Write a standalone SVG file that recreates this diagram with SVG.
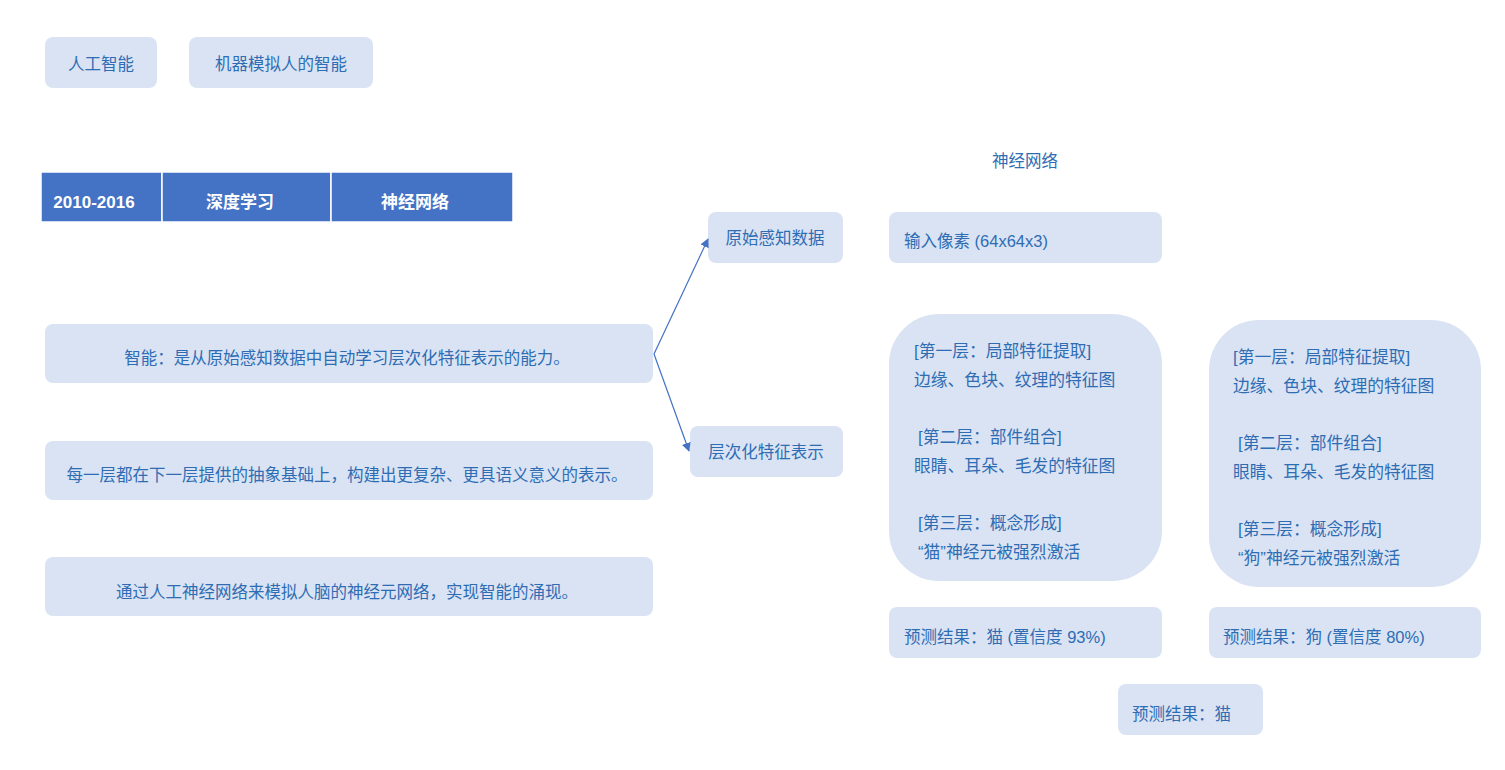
<svg xmlns="http://www.w3.org/2000/svg" width="1505" height="770" viewBox="0 0 1505 770">
<defs>
<style>
.box{fill:#dae3f3;}
.t{font-family:"Liberation Sans","Noto Sans CJK SC",sans-serif;font-size:16.5px;fill:#2e6db4;}
.l{font-size:16.8px;}
.c{text-anchor:middle;}
.hd{fill:#4472c4;stroke:#ffffff;stroke-width:1.5;}
.ht{font-family:"Liberation Sans","Noto Sans CJK SC",sans-serif;font-size:17px;font-weight:bold;fill:#ffffff;text-anchor:middle;}
.conn{stroke:#4472c4;stroke-width:1.2;fill:none;marker-end:url(#ah);}
</style>
<marker id="ah" viewBox="0 0 10 10" refX="9" refY="5" markerWidth="9" markerHeight="9" markerUnits="userSpaceOnUse" orient="auto">
<path d="M0,0 L10,5 L0,10 z" fill="#4472c4"/>
</marker>
</defs>
<rect width="1505" height="770" fill="#ffffff"/>
<g id="n-ai"><rect class="box" x="45" y="37" width="112" height="51" rx="8"/><text class="t c" x="101" y="70">人工智能</text></g>
<g id="n-machine"><rect class="box" x="189" y="37" width="184" height="51" rx="8"/><text class="t c" x="281" y="70">机器模拟人的智能</text></g>
<g id="n-table">
<rect class="hd" x="41" y="172" width="121" height="50"/>
<rect class="hd" x="162" y="172" width="169" height="50"/>
<rect class="hd" x="331" y="172" width="182" height="50"/>
<text class="ht" x="94" y="208">2010-2016</text>
<text class="ht" x="240" y="208">深度学习</text>
<text class="ht" x="415" y="208">神经网络</text>
</g>
<g id="n-raw"><rect class="box" x="708" y="212" width="135" height="51" rx="8"/><text class="t c" x="775" y="244">原始感知数据</text></g>
<g id="n-hier"><rect class="box" x="690" y="426" width="153" height="51" rx="8"/><text class="t c" x="766" y="458">层次化特征表示</text></g>
<g id="n-def1"><rect class="box" x="45" y="324" width="608" height="59" rx="8"/><text class="t c" x="347" y="364">智能：是从原始感知数据中自动学习层次化特征表示的能力。</text></g>
<g id="n-def2"><rect class="box" x="45" y="441" width="608" height="59" rx="8"/><text class="t c" x="347" y="481">每一层都在下一层提供的抽象基础上，构建出更复杂、更具语义意义的表示。</text></g>
<g id="n-def3"><rect class="box" x="45" y="557" width="608" height="59" rx="8"/><text class="t c" x="347" y="598">通过人工神经网络来模拟人脑的神经元网络，实现智能的涌现。</text></g>
<g id="n-nn-title"><text class="t c" x="1025" y="167">神经网络</text></g>
<g id="n-input"><rect class="box" x="889" y="212" width="273" height="51" rx="8"/><text class="t" x="904" y="247">输入像素 (64x64x3)</text></g>
<g id="n-layers-cat"><rect class="box" x="889" y="314" width="273" height="267" rx="50"/>
<text class="t l" x="914" y="357">[第一层：局部特征提取]</text>
<text class="t l" x="914" y="386">边缘、色块、纹理的特征图</text>
<text class="t l" x="918" y="443">[第二层：部件组合]</text>
<text class="t l" x="914" y="472">眼睛、耳朵、毛发的特征图</text>
<text class="t l" x="918" y="529">[第三层：概念形成]</text>
<text class="t l" x="918" y="558">“猫”神经元被强烈激活</text>
</g>
<g id="n-layers-dog"><rect class="box" x="1209" y="320" width="272" height="267" rx="50"/>
<text class="t l" x="1233" y="363">[第一层：局部特征提取]</text>
<text class="t l" x="1233" y="392">边缘、色块、纹理的特征图</text>
<text class="t l" x="1238" y="449">[第二层：部件组合]</text>
<text class="t l" x="1233" y="478">眼睛、耳朵、毛发的特征图</text>
<text class="t l" x="1238" y="535">[第三层：概念形成]</text>
<text class="t l" x="1238" y="564">“狗”神经元被强烈激活</text>
</g>
<g id="n-pred-cat"><rect class="box" x="889" y="607" width="273" height="51" rx="8"/><text class="t" x="904" y="643">预测结果：猫 (置信度 93%)</text></g>
<g id="n-pred-dog"><rect class="box" x="1209" y="607" width="272" height="51" rx="8"/><text class="t" x="1223" y="643">预测结果：狗 (置信度 80%)</text></g>
<g id="n-pred-final"><rect class="box" x="1118" y="684" width="145" height="51" rx="8"/><text class="t" x="1132" y="720">预测结果：猫</text></g>
<g id="connectors">
<path class="conn" d="M654,354 L708,239"/>
<path class="conn" d="M654,354 L689,451"/>
</g>
</svg>
